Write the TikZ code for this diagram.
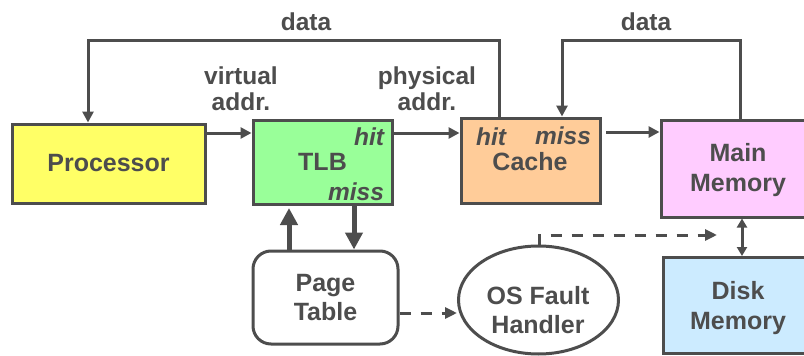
\documentclass[tikz,border=0pt]{standalone}
\usepackage{fontspec}
\setmainfont{Liberation Sans}
\usetikzlibrary{arrows.meta,shapes.geometric}
\definecolor{ln}{HTML}{4D4D4D}
\definecolor{procY}{HTML}{FFFF66}
\definecolor{tlbG}{HTML}{99FF99}
\definecolor{cacheO}{HTML}{FFCC99}
\definecolor{mainP}{HTML}{FFCCFF}
\definecolor{diskB}{HTML}{CCEBFF}
\begin{document}
\begin{tikzpicture}[x=1pt,y=-1pt,
  txt/.style={font=\fontsize{24.5}{26}\selectfont\bfseries, text=ln, align=center, inner sep=0pt},
  btxt/.style={txt, font=\fontsize{25}{29.5}\selectfont\bfseries},
  itxt/.style={font=\fontsize{24.5}{27}\selectfont\bfseries\itshape, text=ln, inner sep=0pt},
  box/.style={btxt, draw=ln, line width=3pt},
  conn/.style={draw=ln, line width=3pt, -{Triangle[length=11pt,width=11pt]}},
  thick conn/.style={draw=ln, line width=5pt, -{Triangle[length=17pt,width=17pt]}},
  dash conn/.style={draw=ln, line width=3pt, dash pattern=on 11pt off 10pt, -{Triangle[length=12pt,width=11pt]}},
  both conn/.style={draw=ln, line width=3pt, {Triangle[length=9pt,width=10pt]}-{Triangle[length=9pt,width=10pt]}}
]
\useasboundingbox (0,0) rectangle (804,356);
\clip (0,0) rectangle (804,356);
\fill[white] (0,0) rectangle (804,356);

\node[box, fill=procY, minimum width=193pt, minimum height=79pt] (proc) at (108.5,163.5) {Processor};
\node[box, fill=tlbG, minimum width=139pt, minimum height=84pt] (tlb) at (322.5,162) {TLB};
\node[box, fill=cacheO, minimum width=139pt, minimum height=85pt] (cache) at (530.5,160.5) {};
\node[btxt] (cachet) at (530,162) {Cache};
\node[box, fill=mainP, minimum width=154pt, minimum height=97pt] (main) at (738,168.5) {};
\node[btxt] (maint) at (738,170) {Main\\Memory};
\node[box, fill=diskB, minimum width=152pt, minimum height=96pt] (disk) at (739,305.5) {};
\node[btxt] (diskt) at (738,308) {Disk\\Memory};
\node[box, fill=white, rounded corners=18pt, minimum width=145pt, minimum height=93pt] (pt) at (325.5,297.5) {Page\\Table};
\node[box, fill=white, ellipse, minimum width=160pt, minimum height=108pt] (os) at (538.5,300) {};
\node[btxt] (ost) at (538,310) {OS Fault\\Handler};

\node[itxt] (tlbhit) at (369,137) {hit};
\node[itxt] (tlbmiss) at (356,192) {miss};
\node[itxt] (chit) at (491,137) {hit};
\node[itxt] (cmiss) at (563,136) {miss};

\node[txt] (data1) at (306,22) {data};
\node[txt] (data2) at (646,22) {data};
\node[txt] (va) at (241,89) {virtual\\addr.};
\node[txt] (pa) at (427,89) {physical\\addr.};

\draw[conn] (208,133 -| proc.east) -- (tlb.west |- 0,133);
\draw[conn] (tlb.east |- 0,133) -- (cache.west |- 0,133);
\draw[conn] (606,132) -- (main.west |- 0,132);
\draw[conn] (499,0 |- cache.north) -- (499,40) -- (88,40) -- (88,0 |- proc.north);
\draw[conn] (740,0 |- main.north) -- (740,40) -- (562,40) -- (562,0 |- cache.north);
\draw[thick conn] (354,0 |- tlb.south) -- (354,0 |- pt.north);
\draw[thick conn] (289,0 |- pt.north) -- (289,208);
\draw[dash conn] (pt.east |- 0,313) -- (os.west |- 0,313);
\draw[dash conn] (539,0 |- os.north) -- (539,235) -- (717,235);
\draw[both conn] (742,0 |- main.south) -- (742,0 |- disk.north);
\end{tikzpicture}
\end{document}
